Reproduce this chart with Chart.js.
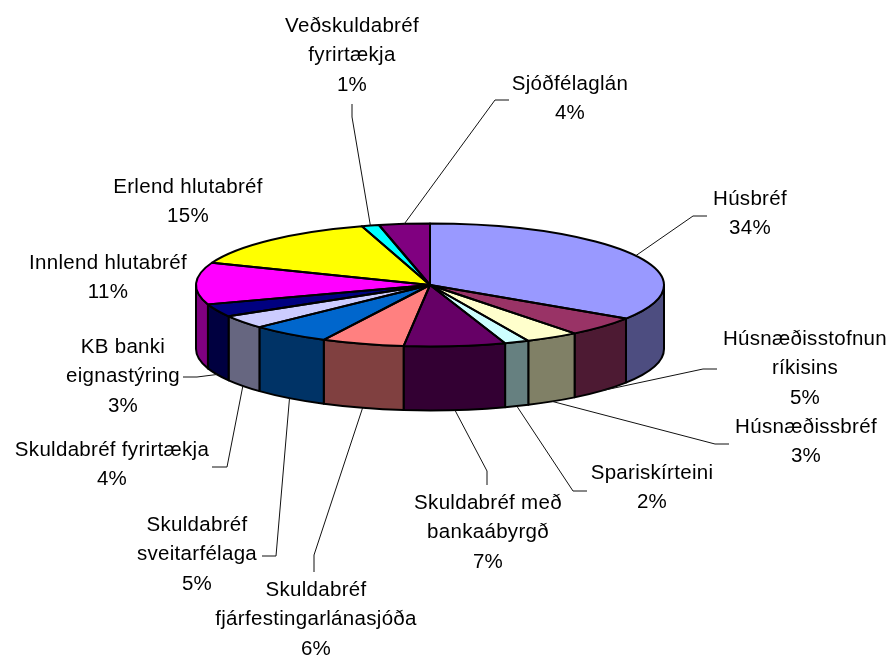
<!DOCTYPE html>
<html lang="is">
<head>
<meta charset="utf-8">
<title>Skipting eigna</title>
<script src="https://cdn.jsdelivr.net/npm/chart.js@4/dist/chart.umd.min.js"></script>
<style>
    html, body { margin: 0; padding: 0; background: #fff; }
    canvas { display: block; }
</style>
</head>
<body>
<canvas id="pieChart" width="893" height="657"></canvas>
<script>
// gögn
const categories = [
    'Húsbréf',
    'Húsnæðisstofnun\nríkisins',
    'Húsnæðissbréf',
    'Spariskírteini',
    'Skuldabréf með\nbankaábyrgð',
    'Skuldabréf\nfjárfestingarlánasjóða',
    'Skuldabréf\nsveitarfélaga',
    'Skuldabréf fyrirtækja',
    'KB banki\neignastýring',
    'Innlend hlutabréf',
    'Erlend hlutabréf',
    'Veðskuldabréf\nfyrirtækja',
    'Sjóðfélaglán'
];
// printed percentages
const percentLabels = ['34%', '5%', '3%', '2%', '7%', '6%', '5%', '4%', '3%', '11%', '15%', '1%', '4%'];
// slice sizes as they look in the picture
const sliceValues = [34.2, 5.2, 3.7, 1.7, 7.0, 5.7, 5.5, 3.5, 3.4, 11.0, 14.4, 1.2, 3.5];

const topColors = ['#9999FF', '#993366', '#FFFFCC', '#CCFFFF', '#660066', '#FF8080', '#0066CC',
    '#CCCCFF', '#000080', '#FF00FF', '#FFFF00', '#00FFFF', '#800080'];
const sideColors = ['#4D4D80', '#4D1A33', '#808066', '#668080', '#330033', '#804040', '#003366',
    '#666680', '#000040', '#800080', '#808000', '#008080', '#400040'];

// label placement: centre x, y of first line
const labelPlaces = [
    [750, 199], [805, 339], [806, 427], [652, 473], [488, 503], [316, 590], [197, 525],
    [112, 450], [123, 347], [108, 263], [188, 187], [352, 26], [570, 84]
];
// leader line bends, after the start on the pie rim
const leaderBends = [
    [[693, 216], [707, 216]],
    [[703, 369], [717, 369]],
    [[715, 444], [729, 444]],
    [[573, 491], [587, 491]],
    [[487, 471], [487, 485]],
    [[314, 555], [314, 572]],
    [[276, 556], [262, 556]],
    [[227, 467], [212, 467]],
    [[197, 377], [183, 377]],
    null,
    null,
    [[352, 117], [352, 104]],
    [[495, 100], [509, 100]]
];

const pieCenterY = 285;
const pieRadius = 234;
const flatten = 61.5 / 234;
const pieDepth = 64;
const lineStep = 29.7;

const pie3d = {
    id: 'pie3d',
    beforeDatasetsDraw(chart) {
        const ctx = chart.ctx;
        const arcs = chart.getDatasetMeta(0).data;
        const ry = arcs[0].outerRadius * flatten;

        // wall of the pie, front half only
        ctx.save();
        ctx.lineWidth = 2;
        ctx.lineJoin = 'round';
        ctx.strokeStyle = '#000';
        arcs.forEach((arc, i) => {
            const from = Math.max(arc.startAngle, 0);
            const to = Math.min(arc.endAngle, Math.PI);
            if (from >= to) return;
            ctx.beginPath();
            ctx.ellipse(arc.x, pieCenterY, arc.outerRadius, ry, 0, from, to);
            ctx.ellipse(arc.x, pieCenterY + pieDepth, arc.outerRadius, ry, 0, to, from, true);
            ctx.closePath();
            ctx.fillStyle = sideColors[i];
            ctx.fill();
            ctx.stroke();
        });
        ctx.restore();

        // squash the flat top that Chart.js draws into an ellipse
        ctx.save();
        ctx.translate(0, pieCenterY);
        ctx.scale(1, flatten);
        ctx.translate(0, -arcs[0].y);
    },
    afterDatasetsDraw(chart) {
        const ctx = chart.ctx;
        ctx.restore();

        const arcs = chart.getDatasetMeta(0).data;
        const ry = arcs[0].outerRadius * flatten;

        // outlines here so the line width is not squashed too
        ctx.save();
        ctx.lineWidth = 2;
        ctx.lineJoin = 'round';
        ctx.strokeStyle = '#000';
        arcs.forEach(arc => {
            ctx.beginPath();
            ctx.moveTo(arc.x, pieCenterY);
            ctx.ellipse(arc.x, pieCenterY, arc.outerRadius, ry, 0, arc.startAngle, arc.endAngle);
            ctx.closePath();
            ctx.stroke();
        });

        // leader lines
        ctx.lineWidth = 1;
        ctx.strokeStyle = '#111';
        arcs.forEach((arc, i) => {
            if (!leaderBends[i]) return;
            const mid = (arc.startAngle + arc.endAngle) / 2;
            const onFront = Math.sin(mid) > 0;
            ctx.beginPath();
            ctx.moveTo(arc.x + arc.outerRadius * Math.cos(mid),
                pieCenterY + ry * Math.sin(mid) + (onFront ? pieDepth : 0));
            leaderBends[i].forEach(p => ctx.lineTo(p[0], p[1]));
            ctx.stroke();
        });

        // labels
        ctx.fillStyle = '#000';
        ctx.font = '20.5px "Liberation Sans", Arial, sans-serif';
        ctx.letterSpacing = '0.3px';
        ctx.textAlign = 'center';
        ctx.textBaseline = 'middle';
        chart.data.labels.forEach((name, i) => {
            const lines = name.split('\n').concat(percentLabels[i]);
            lines.forEach((line, n) => {
                ctx.fillText(line, labelPlaces[i][0], labelPlaces[i][1] + n * lineStep);
            });
        });
        ctx.restore();
    }
};

new Chart(document.getElementById('pieChart'), {
    type: 'pie',
    data: {
        labels: categories,
        datasets: [{
            data: sliceValues,
            backgroundColor: topColors,
            borderWidth: 0
        }]
    },
    options: {
        responsive: false,
        animation: false,
        radius: pieRadius,
        layout: { padding: { right: 33 } },
        plugins: {
            legend: { display: false },
            tooltip: { enabled: false }
        }
    },
    plugins: [pie3d]
});
</script>
</body>
</html>
